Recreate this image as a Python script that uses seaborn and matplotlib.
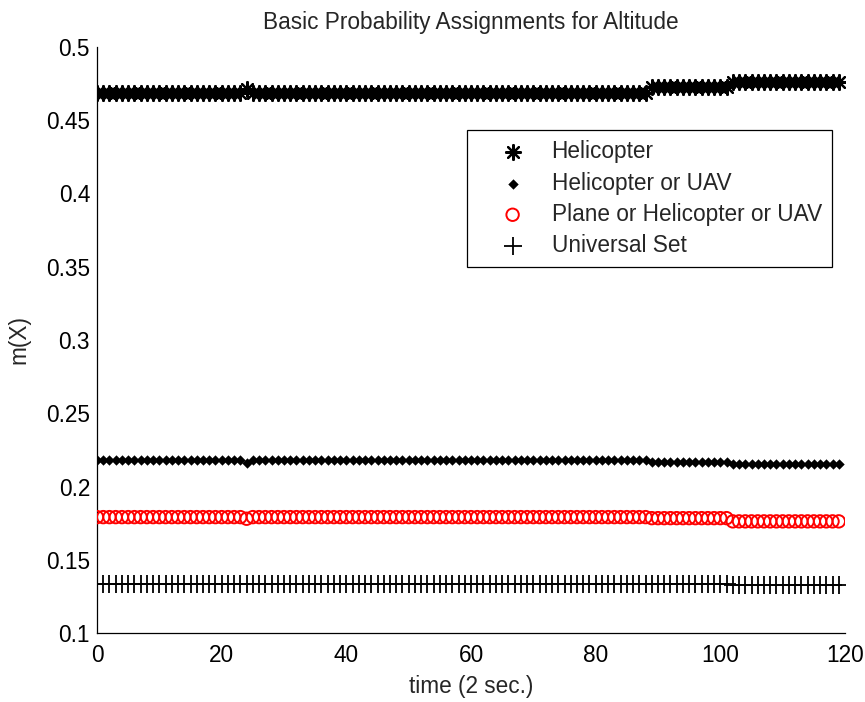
import numpy as np
import matplotlib
matplotlib.use("Agg")
import matplotlib.pyplot as plt
import seaborn as sns

# ---- data ----
time = list(range(120))

helicopter = [0.4687] * 24 + [0.4710] + [0.4687] * 64 + [0.4724] * 13 + [0.4762] * 18
heli_or_uav = [0.2181] * 24 + [0.2159] + [0.2181] * 64 + [0.2166] * 13 + [0.2152] * 18
plane_heli_uav = [0.1791] * 24 + [0.1780] + [0.1791] * 64 + [0.1784] * 13 + [0.1762] * 18
universal = [0.1337] * 102 + [0.1330] * 18

series_labels = ["Helicopter", "Helicopter or UAV",
                 "Plane or Helicopter or UAV", "Universal Set"]
x_ticks = [0, 20, 40, 60, 80, 100, 120]
y_ticks = [0.1, 0.15, 0.2, 0.25, 0.3, 0.35, 0.4, 0.45, 0.5]
y_tick_labels = ["0.1", "0.15", "0.2", "0.25", "0.3", "0.35", "0.4", "0.45", "0.5"]

sns.set_style("white")
plt.rcParams["font.family"] = ["Liberation Sans", "DejaVu Sans"]
FS = 16.3

fig = plt.figure(figsize=(8.65, 7.02), dpi=100)
ax = fig.add_axes([97 / 865, 1 - 633 / 702, 748 / 865, 586 / 702])

asterisk = (8, 2, 0)
sns.scatterplot(x=time, y=helicopter, marker=asterisk, color="black",
                s=115, linewidth=1.6, ax=ax, label=series_labels[0], zorder=3)
sns.scatterplot(x=time, y=heli_or_uav, marker="D", color="black",
                s=28, linewidth=0, ax=ax, label=series_labels[1], zorder=3)
sns.scatterplot(x=time, y=plane_heli_uav, marker="o", facecolor="none",
                edgecolor="red", s=80, linewidth=1.4, ax=ax,
                label=series_labels[2], zorder=3)
sns.scatterplot(x=time, y=universal, marker="+", color="black",
                s=150, linewidth=1.3, ax=ax, label=series_labels[3], zorder=3)

ax.set_xlim(0, 120)
ax.set_ylim(0.1, 0.5)
ax.set_xticks(x_ticks)
ax.set_xticklabels([str(v) for v in x_ticks], fontsize=FS)
ax.set_yticks(y_ticks)
ax.set_yticklabels(y_tick_labels, fontsize=FS)

for side in ["top", "right"]:
    ax.spines[side].set_visible(False)
for side in ["left", "bottom"]:
    ax.spines[side].set_color("black")
    ax.spines[side].set_linewidth(0.9)

ax.tick_params(axis="both", direction="in", length=5.5, width=0.9,
               color="black", labelcolor="black")
ax.tick_params(axis="x", pad=8)
ax.tick_params(axis="y", pad=5)

ax.set_title("Basic Probability Assignments for Altitude", fontsize=FS, pad=13)
ax.set_xlabel("time (2 sec.)", fontsize=FS, labelpad=6)
ax.set_ylabel("m(X)", fontsize=FS, labelpad=11)

leg = ax.legend(loc="upper right", bbox_to_anchor=(0.9826, 0.858),
                fontsize=FS, frameon=True, fancybox=False, framealpha=1,
                edgecolor="black", borderpad=0.45, labelspacing=0.36,
                handletextpad=0.17, handlelength=3.1, borderaxespad=0)
leg.get_frame().set_linewidth(0.9)

fig.savefig("out.png", dpi=100)
